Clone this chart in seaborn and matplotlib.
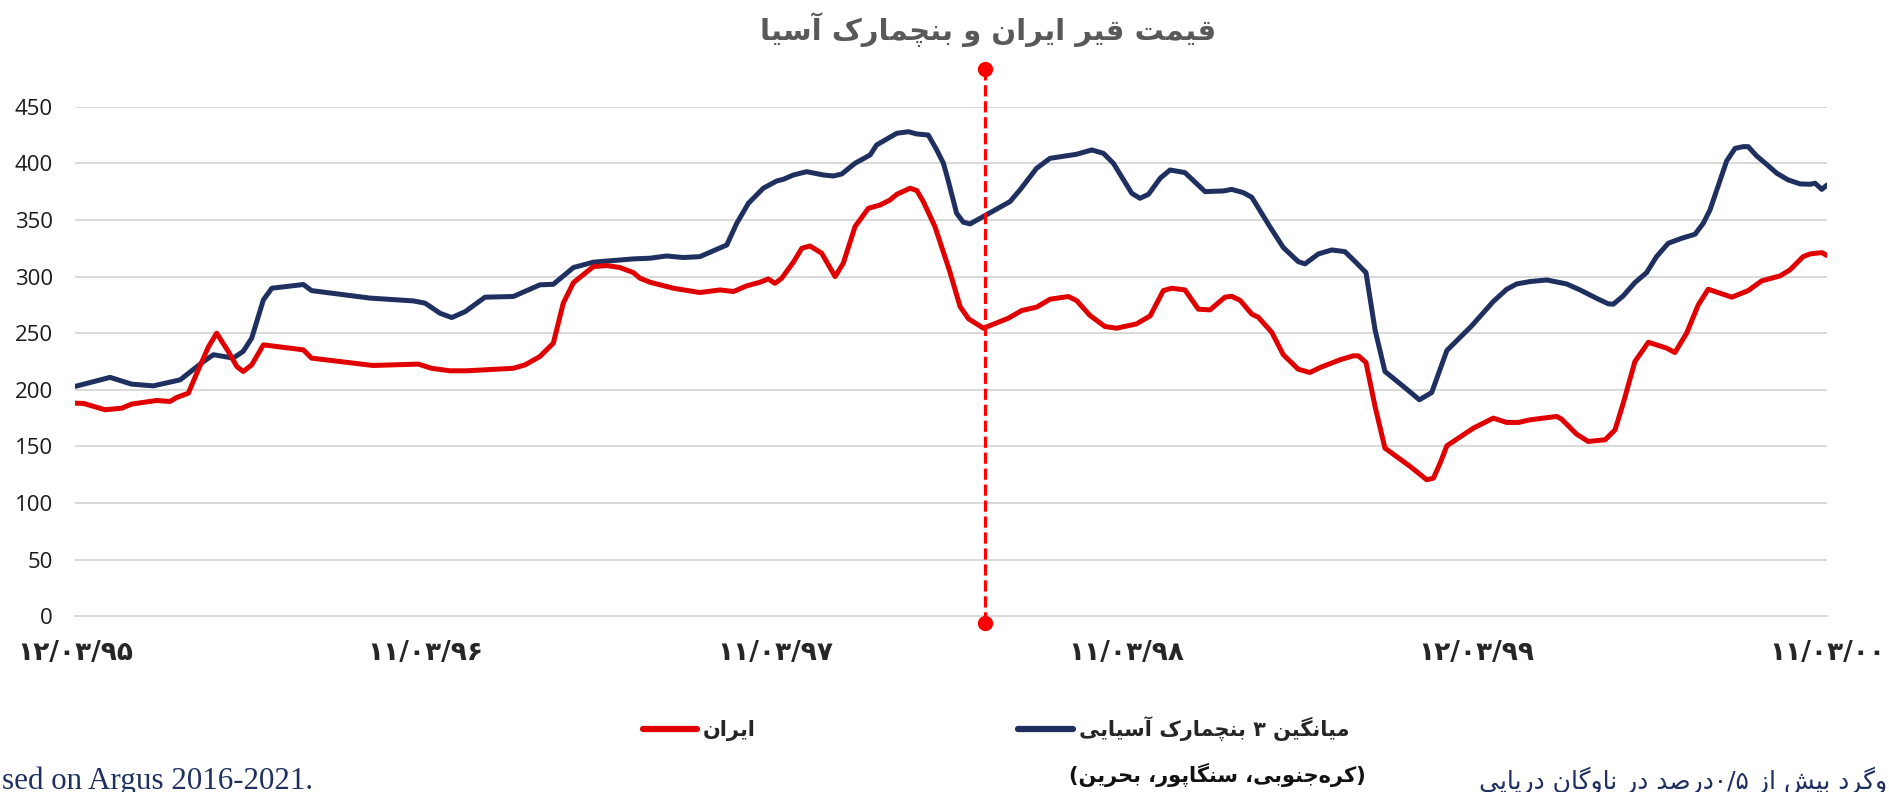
import re
import pandas as pd
import matplotlib.pyplot as plt
import seaborn as sns
from matplotlib.lines import Line2D

# months since 12/03/95 (Persian calendar)
iran_months = [0, 0.29, 1.03, 1.6, 1.94, 2.8, 3.25, 3.48, 3.88, 4.17, 4.57, 4.85, 5.25, 5.54, 5.76,
               6.05, 6.45, 7.82, 8.1, 10.2, 11.76, 12.21, 12.84, 13.41, 15.01, 15.41, 15.92, 16.38,
               16.72, 17.07, 17.75, 18.21, 18.66, 19.12, 19.35, 19.69, 20.49, 21.4, 22.09, 22.55,
               23.0, 23.46, 23.74, 23.97, 24.2, 24.6, 24.89, 25.17, 25.57, 26.03, 26.31, 26.71,
               27.17, 27.57, 27.91, 28.14, 28.6, 28.83, 29.05, 29.45, 29.95, 30.31, 30.6, 31.11,
               31.96, 32.42, 32.93, 33.39, 34.02, 34.3, 34.76, 35.27, 35.67, 36.35, 36.82, 37.27,
               37.56, 38.01, 38.47, 38.87, 39.38, 39.61, 39.9, 40.3, 40.52, 40.98, 41.38, 41.89,
               42.29, 42.64, 43.32, 43.77, 43.95, 44.21, 44.52, 44.86, 45.72, 46.29, 46.52, 46.75,
               46.98, 47.89, 48.57, 49.03, 49.43, 49.83, 50.74, 50.91, 51.42, 51.82, 52.4, 52.74,
               53.02, 53.42, 53.88, 54.51, 54.79, 55.19, 55.59, 55.93, 56.34, 56.74, 57.3, 57.76,
               58.39, 58.73, 59.18, 59.42, 59.82, 60]
iran_price = [188.2, 188, 182.4, 183.8, 187.4, 190.6, 189.7, 193.2, 197, 214.7, 238, 250, 233.8,
              220.6, 216.2, 222, 239.7, 235.3, 228, 221.5, 222.7, 219, 216.8, 216.8, 219, 222, 229.4,
              241.2, 276.5, 294.7, 308.8, 309.7, 308, 303.5, 298.5, 295, 289.7, 285.9, 288.2, 286.8,
              291.8, 295, 297.9, 294, 298.5, 312.7, 325, 327, 320.6, 300, 311.8, 344, 360.3, 363.2,
              367.6, 372.6, 378, 375.9, 366.2, 344, 305, 273.5, 262.7, 254.4, 263.2, 270, 273, 280,
              282.4, 278.8, 265.6, 255.9, 254.4, 258.2, 265.3, 287.6, 289.7, 288.2, 271.2, 270.6,
              281.8, 282.6, 279, 266.8, 264.1, 250.9, 230.9, 218.2, 215.3, 219.7, 226.5, 230, 230,
              224.1, 185.3, 148.5, 132.4, 120.6, 122, 135.3, 150.6, 166.2, 175, 171.2, 171.2, 173.5,
              176.5, 174.1, 160.9, 154.4, 155.9, 164.7, 188.2, 225, 242, 236.8, 232.9, 250, 275,
              288.8, 285.3, 281.8, 287.6, 296.2, 300.6, 305.9, 317.6, 320, 321.2, 318.5]

asia_months = [0, 1.2, 1.94, 2.68, 3.6, 4.4, 4.74, 5.42, 5.76, 6.05, 6.45, 6.74, 7.82, 8.1, 10.1,
               11.59, 11.99, 12.5, 12.9, 13.36, 14.04, 15.01, 15.92, 16.38, 17.07, 17.75, 19.12,
               19.69, 20.26, 20.83, 21.4, 22.32, 22.66, 23.06, 23.57, 24.03, 24.26, 24.6, 25.06,
               25.63, 25.97, 26.26, 26.71, 27.23, 27.45, 28.14, 28.54, 28.83, 29.22, 29.51, 29.74,
               29.9, 30.19, 30.42, 30.65, 31.16, 32.02, 32.36, 32.93, 33.39, 34.3, 34.82, 35.22,
               35.56, 36.19, 36.47, 36.76, 37.16, 37.5, 38.01, 38.7, 39.33, 39.61, 40.01, 40.3,
               40.92, 41.38, 41.89, 42.12, 42.58, 43.04, 43.49, 43.84, 44.21, 44.52, 44.86, 45.49,
               46.04, 46.46, 46.98, 47.83, 48.57, 49.03, 49.37, 49.83, 50.4, 51.08, 51.54, 52.17,
               52.51, 52.68, 53.02, 53.42, 53.82, 54.16, 54.56, 55.02, 55.48, 55.76, 55.99, 56.34,
               56.56, 56.85, 57.13, 57.3, 57.59, 57.93, 58.28, 58.67, 59.08, 59.42, 59.59, 59.82, 60]
asia_price = [203, 211, 205, 203.5, 208.8, 225, 231, 228, 234, 245.6, 279.4, 289.7, 293, 287.6,
              281, 278.5, 276.5, 267.6, 263.8, 269, 281.8, 282.4, 292.7, 293.2, 308, 312.7, 315.6,
              316.2, 318.2, 316.8, 317.6, 327.9, 347, 364.7, 378, 384.4, 385.9, 389.7, 392.6, 389.7,
              388.8, 390.6, 400, 407.4, 416.2, 426.5, 427.9, 425.9, 425, 411.8, 400, 385, 355.9,
              348, 346.5, 353.8, 366.2, 376.5, 395.6, 404.4, 408, 411.8, 408.8, 400, 373.5, 369.1,
              372.6, 386.8, 394.1, 391.8, 375, 375.6, 377, 374.1, 370, 344, 325.6, 313.2, 311.2,
              320, 323.5, 322, 313.2, 303.5, 253, 216.2, 203, 191.2, 197.6, 234.7, 256.5, 278,
              288.8, 293.5, 295.6, 297, 293.5, 288.2, 280, 275.9, 275.6, 283, 294.7, 303.5, 317.6,
              329.4, 333.8, 337.4, 347, 358.8, 385.3, 402, 413.2, 414.7, 414.7, 406.5, 399.1, 391.2,
              385.3, 381.8, 381.5, 382.4, 377, 380.9]

tick_months = [0, 12, 24, 36, 48, 60]
tick_labels = ['۱۲/۰۳/۹۵', '۱۱/۰۳/۹۶', '۱۱/۰۳/۹۷', '۱۱/۰۳/۹۸', '۱۲/۰۳/۹۹', '۱۱/۰۳/۰۰']
y_ticks = [0, 50, 100, 150, 200, 250, 300, 350, 400, 450]
event_month = 31.16
event_span = [-6, 483]

title = 'قیمت قیر ایران و بنچمارک آسیا'
iran_label = 'ایران'
asia_label = 'میانگین ۳ بنچمارک آسیایی'
asia_note = '(کره‌جنوبی، سنگاپور، بحرین)'
# both footnotes are cut by the page edge in the source, only the visible part is kept
footnote_fa = 'وگرد بیش از ۰/۵درصد در ناوگان دریایی'
footnote_en = 'sed on Argus 2016-2021.'

RED = '#E00000'
NAVY = '#1F3060'

# contextual forms: isolated, final, initial, medial
FORMS = {
    'ا': (0xFE8D, 0xFE8E, None, None), 'آ': (0xFE81, 0xFE82, None, None),
    'ب': (0xFE8F, 0xFE90, 0xFE91, 0xFE92), 'پ': (0xFB56, 0xFB57, 0xFB58, 0xFB59),
    'ت': (0xFE95, 0xFE96, 0xFE97, 0xFE98), 'ج': (0xFE9D, 0xFE9E, 0xFE9F, 0xFEA0),
    'چ': (0xFB7A, 0xFB7B, 0xFB7C, 0xFB7D), 'ح': (0xFEA1, 0xFEA2, 0xFEA3, 0xFEA4),
    'خ': (0xFEA5, 0xFEA6, 0xFEA7, 0xFEA8), 'د': (0xFEA9, 0xFEAA, None, None),
    'ر': (0xFEAD, 0xFEAE, None, None), 'ز': (0xFEAF, 0xFEB0, None, None),
    'س': (0xFEB1, 0xFEB2, 0xFEB3, 0xFEB4), 'ش': (0xFEB5, 0xFEB6, 0xFEB7, 0xFEB8),
    'ص': (0xFEB9, 0xFEBA, 0xFEBB, 0xFEBC), 'ق': (0xFED5, 0xFED6, 0xFED7, 0xFED8),
    'ک': (0xFB8E, 0xFB8F, 0xFB90, 0xFB91), 'گ': (0xFB92, 0xFB93, 0xFB94, 0xFB95),
    'م': (0xFEE1, 0xFEE2, 0xFEE3, 0xFEE4), 'ن': (0xFEE5, 0xFEE6, 0xFEE7, 0xFEE8),
    'ه': (0xFEE9, 0xFEEA, 0xFEEB, 0xFEEC), 'و': (0xFEED, 0xFEEE, None, None),
    'ی': (0xFBFC, 0xFBFD, 0xFBFE, 0xFBFF),
}


def shape(text):
    out = []
    for i, c in enumerate(text):
        if c not in FORMS:
            out.append(c)
            continue
        prev = text[i - 1] if i > 0 else None
        nxt = text[i + 1] if i + 1 < len(text) else None
        join_prev = prev in FORMS and FORMS[prev][2] is not None
        join_next = nxt in FORMS and FORMS[c][2] is not None
        isol, fin, ini, med = FORMS[c]
        if join_prev and join_next:
            out.append(chr(med))
        elif join_prev:
            out.append(chr(fin))
        elif join_next:
            out.append(chr(ini))
        else:
            out.append(chr(isol))
    return ''.join(out).replace('\u200c', '')


def rtl(text):
    s = shape(text)
    runs = re.findall(r'[۰-۹0-9][۰-۹0-9/]*|[^۰-۹0-9]+', s)
    mirror = str.maketrans('()', ')(')
    out = []
    for r in reversed(runs):
        if re.match(r'[۰-۹0-9]', r):
            out.append(r)
        else:
            out.append(r[::-1].translate(mirror))
    return ''.join(out)


def main():
    df = pd.concat([
        pd.DataFrame({'month': asia_months, 'price': asia_price, 'series': 'asia'}),
        pd.DataFrame({'month': iran_months, 'price': iran_price, 'series': 'iran'}),
    ], ignore_index=True)

    sns.set_style('white')
    plt.rcParams['font.family'] = ['DejaVu Sans']
    plt.rcParams['lines.solid_joinstyle'] = 'round'
    plt.rcParams['lines.solid_capstyle'] = 'round'

    fig = plt.figure(figsize=(18.9, 7.92), dpi=100)
    ax = fig.add_axes([0.0397, 0.2218, 0.9270, 0.6435])

    sns.lineplot(data=df, x='month', y='price', hue='series', hue_order=['asia', 'iran'],
                 palette={'asia': NAVY, 'iran': RED}, linewidth=3.6, estimator=None,
                 legend=False, ax=ax)

    # dashed marker line
    ax.plot([event_month, event_month], event_span, color='#FF0000', lw=2.3, ls='--',
            dashes=(3.5, 1.5), marker='o', markersize=10, clip_on=False, zorder=5)

    ax.set_xlim(tick_months[0], tick_months[-1])
    ax.set_ylim(y_ticks[0], y_ticks[-1])
    ax.set_xticks(tick_months)
    ax.set_xticklabels(tick_labels, fontsize=19, fontweight='bold', family=['DejaVu Sans'])
    ax.set_yticks(y_ticks)
    ax.set_yticklabels([str(v) for v in y_ticks], fontsize=16, family=['Open Sans'])
    ax.set_xlabel('')
    ax.set_ylabel('')
    ax.grid(axis='y', color='#D9D9D9', lw=1.4)
    ax.grid(axis='x', visible=False)
    ax.tick_params(axis='y', length=0, pad=16, labelcolor='#1a1a1a')
    ax.tick_params(axis='x', length=7, width=1.4, color='#D9D9D9', pad=10)
    for side in ['top', 'right', 'left']:
        ax.spines[side].set_visible(False)
    ax.spines['bottom'].set_color('#D9D9D9')
    ax.spines['bottom'].set_linewidth(1.4)

    fig.text(0.523, 0.962, rtl(title), ha='center', va='center', fontsize=21,
             fontweight='bold', color='#595959')

    handles = [Line2D([], [], color=RED, lw=4.5, solid_capstyle='round'),
               Line2D([], [], color=NAVY, lw=4.5, solid_capstyle='round')]
    fig.legend(handles, [rtl(iran_label), rtl(asia_label)], ncol=2, loc='center',
               bbox_to_anchor=(0.527, 0.0795), frameon=False,
               prop={'family': 'DejaVu Sans', 'weight': 'bold', 'size': 15},
               handlelength=2.6, handletextpad=0.3, columnspacing=12.6)

    fig.text(0.644, 0.0215, rtl(asia_note), ha='center', va='center', fontsize=15,
             fontweight='bold', color='#111111')
    fig.text(0.9985, 0.0139, rtl(footnote_fa), ha='right', va='center', fontsize=18,
             color=NAVY)
    fig.text(0.001, 0.0139, footnote_en, ha='left', va='center', fontsize=22.3,
             family=['Liberation Serif'], color=NAVY)

    fig.savefig('out.png', dpi=100)


if __name__ == '__main__':
    main()
